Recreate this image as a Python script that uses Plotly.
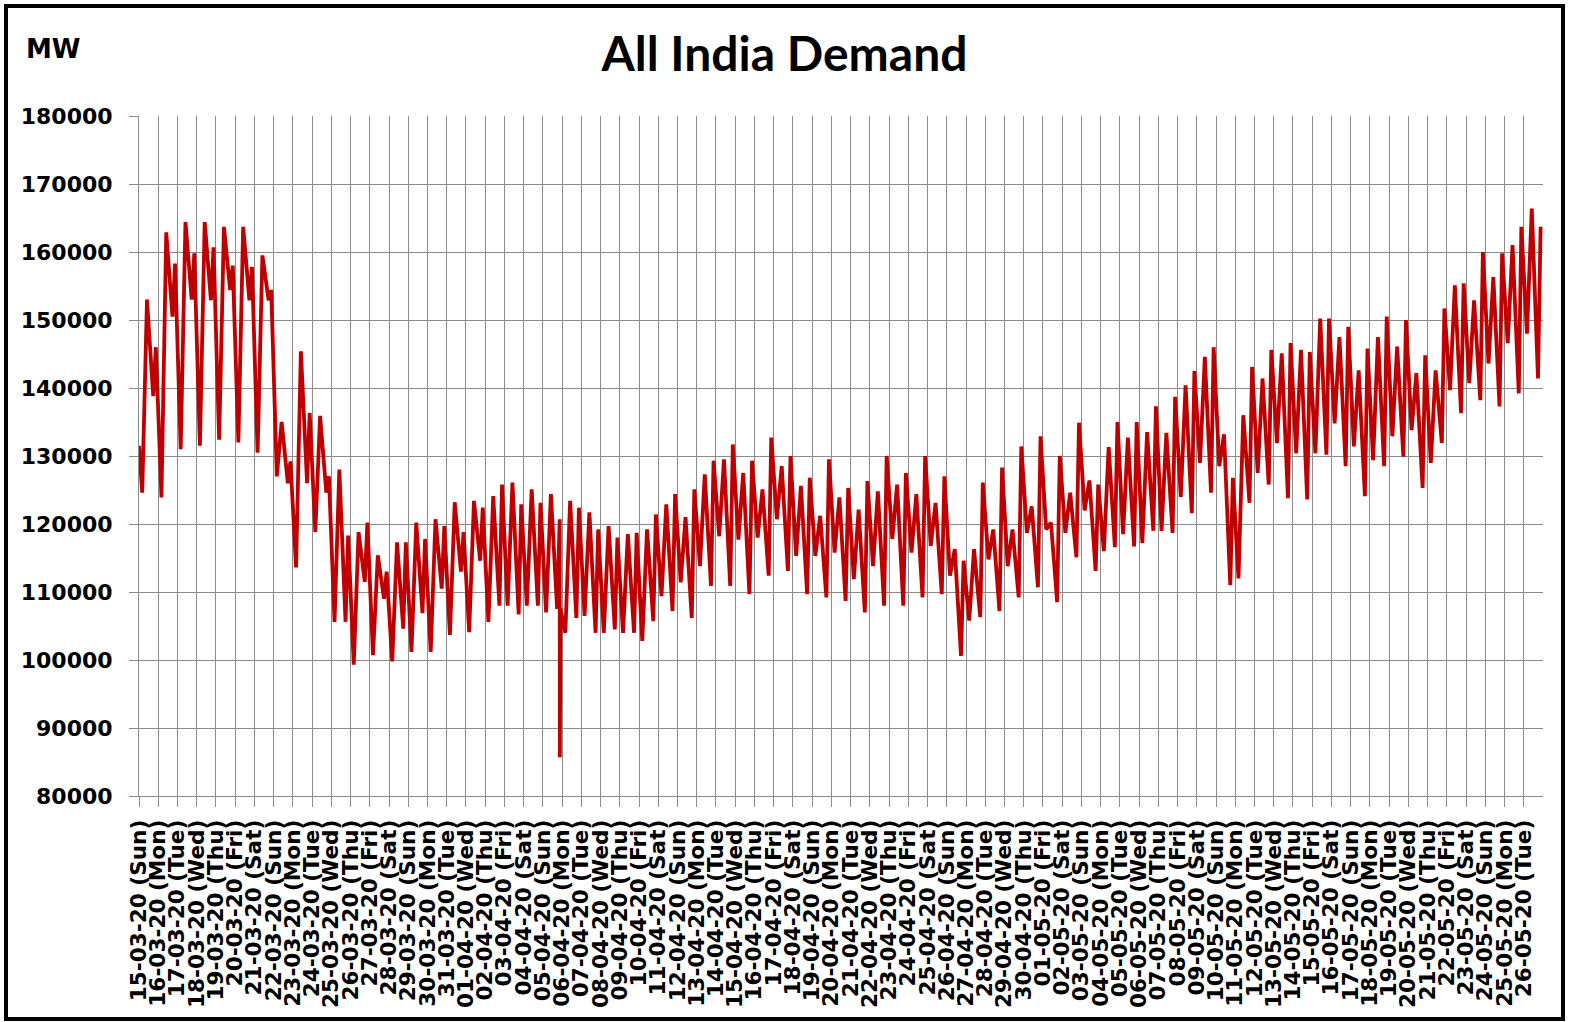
import plotly.graph_objects as go
import pandas as pd

# ---------------- data ----------------
START_DATE = "2020-03-15"
N_DAYS = 73

# hour of day at which each daily reading is taken
READING_HOURS = [4.0, 10.0, 17.75, 21.0]

# MW readings per day (15-03-20 ... 26-05-20)
night_low = [124600, 123900, 131000, 131500, 132400, 132000, 130500, 127000, 113600, 118800,
             105600, 99300, 100700, 99800, 101200, 101200, 103700, 104100, 105600, 108000,
             108000, 107000, 104000, 106500, 104000, 104000, 102800, 109400, 111400, 113800,
             118200, 117700, 118000, 120700, 115300, 115300, 115800, 111900, 113800, 117800,
             115800, 116800, 112400, 105800, 114800, 113800, 118700, 119200, 118700, 122000,
             116000, 118500, 117200, 119000, 124000, 129000, 128500, 112000, 127500, 131900,
             130400, 130400, 134800, 131400, 129400, 132900, 133800, 129000, 139700, 140700,
             143600, 146600, 148000]
morning_peak = [153000, 162900, 164400, 164400, 163700, 163700, 159500, 135000, 145400, 135900,
                128000, 118800, 115400, 117300, 120200, 120700, 123200, 123400, 124100, 126100,
                125100, 124400, 123400, 121700, 119700, 118500, 119200, 122900, 121000, 127300,
                129500, 127500, 125100, 128500, 125600, 121200, 123900, 122100, 124800, 125800,
                124400, 123100, 116300, 116300, 119200, 119200, 122600, 120200, 124600, 126400,
                131300, 132700, 133500, 133400, 140400, 144600, 133200, 136000, 141400, 145100,
                145600, 150200, 147500, 142600, 147500, 146100, 142200, 142600, 155100, 152900,
                156300, 161000, 166400]
evening_dip = [138800, 150500, 153000, 152900, 154400, 152900, 152900, 126000, 126000, 124600,
               105600, 111500, 109000, 104600, 106900, 110500, 113000, 114600, 108000, 106700,
               108000, 107500, 106200, 104000, 104500, 104000, 105700, 107200, 106200, 110900,
               110900, 109700, 112400, 113100, 109700, 109200, 108700, 107000, 108000, 108000,
               109200, 109700, 100600, 106300, 107200, 109200, 110700, 108500, 115100, 113100,
               116600, 116700, 119000, 118700, 121600, 124600, 111000, 123100, 125800, 123800,
               123600, 130200, 128500, 124100, 128500, 129900, 125300, 131900, 136300, 138200,
               137300, 139200, 141400]
late_peak = [146000, 158300, 159800, 160700, 158000, 157800, 154400, 129200, 136300, 127000,
             118300, 120200, 113000, 117300, 117800, 119700, 118800, 122400, 125800, 122900,
             123100, 120700, 122400, 119200, 118000, 118700, 121400, 124400, 125100, 129300,
             131700, 129300, 132700, 130000, 126800, 129500, 125300, 126300, 130000, 127500,
             130000, 127000, 114600, 126100, 128300, 131400, 132900, 130000, 134900, 125800,
             135000, 135000, 137300, 138700, 142500, 146000, 126800, 143100, 145600, 146600,
             145300, 150200, 149000, 145800, 150500, 150000, 144800, 151700, 155400, 160000,
             159800, 163700, 163700]

FIRST_VALUE = 131500          # 00:00 on 15-03-20

# special event: 05-04-20, 9 PM lights-off
event_day = [21, 21]
event_hour = [21.15, 22.0]
event_value = [85700, 107500]

# ---------------- series assembly ----------------
pts = [(0.0, FIRST_VALUE)]
for d in range(N_DAYS):
    vals = [night_low[d], morning_peak[d], evening_dip[d], late_peak[d]]
    for h, v in zip(READING_HOURS, vals):
        pts.append((d + h / 24.0, v))
for d, h, v in zip(event_day, event_hour, event_value):
    pts.append((d + h / 24.0, v))
pts.sort(key=lambda p: p[0])
xs = [p[0] for p in pts]
ys = [p[1] for p in pts]

dates = pd.date_range(START_DATE, periods=N_DAYS, freq="D")
tick_labels = [dt.strftime("%d-%m-%y") + " (" + dt.strftime("%a") + ")" for dt in dates]
tick_pos = list(range(N_DAYS))

# ---------------- figure ----------------
GRID = "#8C8C8C"
W, H = 1569, 1022
L, R, T, B = 139, 26, 116, 226
PW, PH = W - L - R, H - T - B


def px(xp):
    return (xp - L) / PW


def py(yp):
    return (H - B - yp) / PH


fig = go.Figure()
fig.add_trace(go.Scatter(x=xs, y=ys, mode="lines",
                         line=dict(color="#C00000", width=3.8),
                         hoverinfo="skip", showlegend=False))

fig.update_layout(
    width=W, height=H,
    margin=dict(l=L, r=R, t=T, b=B, pad=0, autoexpand=False),
    paper_bgcolor="white", plot_bgcolor="white",
    title=dict(text="<b>All India Demand</b>", x=0.5, xref="container", xanchor="center",
               y=1 - 54 / H, yref="container", yanchor="middle",
               font=dict(family="Lato", size=48, color="black")),
    xaxis=dict(range=[0, N_DAYS], tickmode="array", tickvals=tick_pos, ticktext=tick_labels,
               tickangle=-90, showgrid=True, gridcolor=GRID, gridwidth=1,
               ticks="outside", ticklen=10, tickcolor=GRID, tickwidth=1,
               showline=True, linecolor=GRID, linewidth=1, zeroline=False, automargin=False,
               tickfont=dict(family="DejaVu Sans", size=21.6, color="black", weight="bold"),
               ticklabelstandoff=4),
    yaxis=dict(range=[80000, 180000], tick0=80000, dtick=10000, tickformat="d",
               showgrid=True, gridcolor=GRID, gridwidth=1,
               ticks="outside", ticklen=9, tickcolor=GRID, tickwidth=1,
               showline=True, linecolor=GRID, linewidth=1, zeroline=False, automargin=False,
               tickfont=dict(family="DejaVu Sans", size=22, color="black", weight="bold"),
               ticklabelstandoff=12),
    annotations=[dict(text="<b>MW</b>", x=px(24), y=py(49), xref="paper", yref="paper",
                      xanchor="left", yanchor="middle", showarrow=False,
                      font=dict(family="DejaVu Sans", size=26, color="black"))],
    shapes=[dict(type="rect", xref="paper", yref="paper",
                 x0=px(6), x1=px(1563), y0=py(1019), y1=py(6),
                 line=dict(color="black", width=4), fillcolor="rgba(0,0,0,0)", layer="above")],
)

fig.write_html("out.html", config={"displayModeBar": False},
               post_script="document.body.style.margin='0';document.body.style.overflow='hidden';")
